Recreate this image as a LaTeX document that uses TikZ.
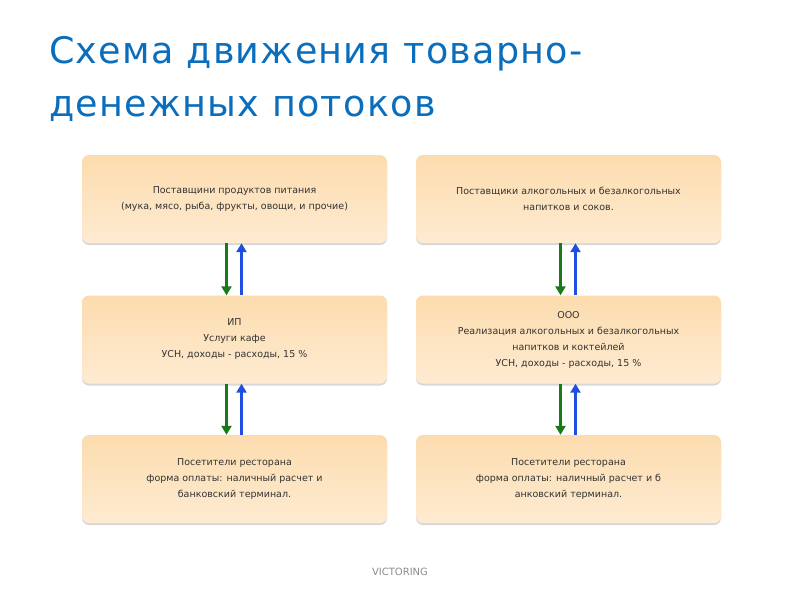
\documentclass[tikz,border=0pt]{standalone}
\usepackage{fontspec}
\setmainfont{DejaVu Sans}
\newfontfamily\titlefont[LetterSpace=3.5]{DejaVu Sans}
\usetikzlibrary{arrows.meta,shadows}
\definecolor{titleblue}{HTML}{0A6EBD}
\definecolor{boxtop}{HTML}{FCDCAE}
\definecolor{boxbot}{HTML}{FEEBD2}
\definecolor{txt}{HTML}{333333}
\definecolor{arrgreen}{HTML}{1A7A1A}
\definecolor{arrblue}{HTML}{1E4FE0}
\begin{document}
\begin{tikzpicture}[x=1pt,y=-1pt,
  flowbox/.style={rounded corners=7pt, minimum width=305pt, minimum height=88pt,
    top color=boxtop, bottom color=boxbot, draw=none,
    drop shadow={shadow xshift=0pt, shadow yshift=-2pt, opacity=0.25, fill=black!60},
    align=center, font=\fontsize{9.5}{16}\selectfont, text=txt, inner sep=0pt},
  down/.style={draw=arrgreen, line width=2.2pt, -{Triangle[length=9pt,width=10pt]}},
  up/.style={draw=arrblue, line width=2.2pt, -{Triangle[length=9pt,width=10pt]}}]
\useasboundingbox (0,0) rectangle (800,600);
\fill[white] (0,0) rectangle (800,600);
\node[anchor=base west, text=titleblue, font=\titlefont\fontsize{36.5}{54}\selectfont, inner sep=0pt] (t1) at (49,63) {Схема движения товарно-};
\node[anchor=base west, text=titleblue, font=\titlefont\fontsize{36.5}{54}\selectfont, inner sep=0pt] (t2) at (49,116) {денежных потоков};

\node[flowbox] (a1) at (234.5,199) {Поставщини продуктов питания\\(мука, мясо, рыба, фрукты, овощи, и прочие)};
\node[flowbox] (a2) at (234.5,339.5) {ИП\\Услуги кафе\\УСН, доходы - расходы, 15 \%};
\node[flowbox] (a3) at (234.5,479) {Посетители ресторана\\форма оплаты: наличный расчет и\\банковский терминал.};

\node[flowbox] (b1) at (568.5,199) {Поставщики алкогольных и безалкогольных\\напитков и соков.};
\node[flowbox] (b2) at (568.5,339.5) {ООО\\Реализация алкогольных и безалкогольных\\напитков и коктейлей\\УСН, доходы - расходы, 15 \%};
\node[flowbox] (b3) at (568.5,479) {Посетители ресторана\\форма оплаты: наличный расчет и б\\анковский терминал.};

\draw[down] ([xshift=-8pt]a1.south) -- ([xshift=-8pt]a2.north);
\draw[up] ([xshift=7pt]a2.north) -- ([xshift=7pt]a1.south);
\draw[down] ([xshift=-8pt]a2.south) -- ([xshift=-8pt]a3.north);
\draw[up] ([xshift=7pt]a3.north) -- ([xshift=7pt]a2.south);
\draw[down] ([xshift=-8pt]b1.south) -- ([xshift=-8pt]b2.north);
\draw[up] ([xshift=7pt]b2.north) -- ([xshift=7pt]b1.south);
\draw[down] ([xshift=-8pt]b2.south) -- ([xshift=-8pt]b3.north);
\draw[up] ([xshift=7pt]b3.north) -- ([xshift=7pt]b2.south);

\node[text=black!45, font=\fontsize{10}{12}\selectfont] (foot) at (400,572) {VICTORING};
\end{tikzpicture}
\end{document}
